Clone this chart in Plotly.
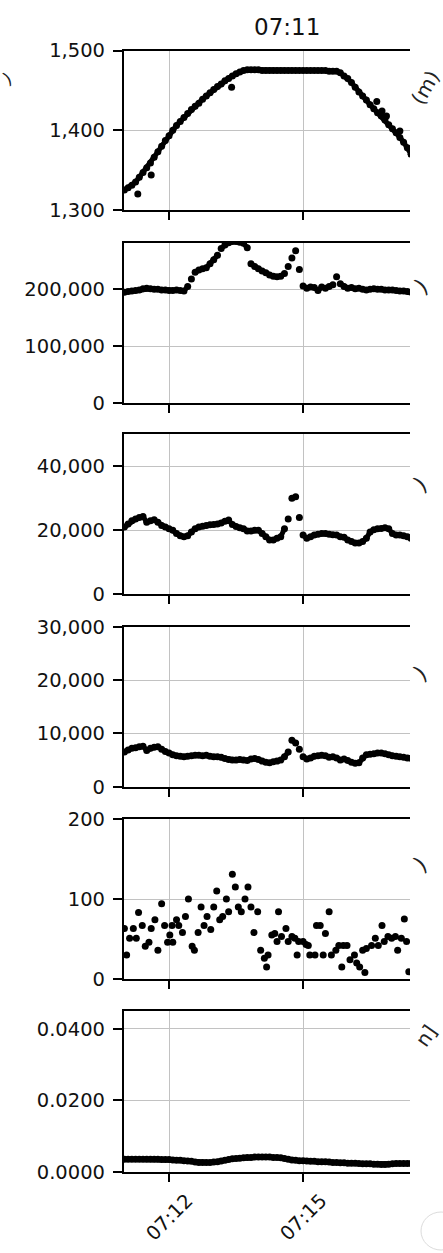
import pandas as pd
import plotly.graph_objects as go

W, H = 443, 1253
FONT = "DejaVu Sans"
day = pd.Timestamp("2023-06-10 07:11:00")

# ---- data: seconds after 07:11:00, 5-second sampling for the continuous channels
dense_sec = list(range(0, 390, 5))

altitude_m = [
    1325, 1328, 1331, 1335, 1341, 1347, 1353, 1359, 1366, 1373,
    1380, 1387, 1393, 1400, 1406, 1411, 1416, 1421, 1426, 1430,
    1434, 1439, 1443, 1447, 1451, 1455, 1458, 1462, 1465, 1468,
    1471, 1473, 1475, 1476, 1476, 1476, 1476, 1475, 1475, 1475,
    1475, 1475, 1475, 1475, 1475, 1475, 1475, 1475, 1475, 1475,
    1475, 1475, 1475, 1475, 1475, 1474, 1474, 1474, 1472, 1468,
    1465, 1460, 1454, 1448, 1443, 1438, 1432, 1427, 1422, 1418,
    1413, 1407, 1402, 1397, 1391, 1385, 1378, 1370,
]
altitude_extra_sec = [18, 36, 144, 339, 346, 352, 370]
altitude_extra_m = [1320, 1344, 1454, 1436, 1424, 1418, 1399]

channel_2 = [
    195000, 196000, 197000, 198000, 199000, 201000, 202000, 201000, 200000, 200000,
    199000, 199000, 198000, 198000, 199000, 198000, 197000, 205000, 218000, 230000,
    234000, 236000, 238000, 245000, 252000, 260000, 272000, 278000, 282000, 284000,
    284000, 283000, 281000, 273000, 245000, 240000, 236000, 232000, 229000, 225000,
    223000, 222000, 223000, 228000, 240000, 255000, 268000, 235000, 206000, 202000,
    204000, 203000, 198000, 204000, 202000, 205000, 208000, 222000, 210000, 205000,
    202000, 203000, 201000, 202000, 200000, 199000, 200000, 201000, 200000, 200000,
    199000, 199000, 199000, 198000, 197000, 197000, 196000, 195000,
]

channel_3 = [
    21000, 22000, 23000, 23500, 24000, 24300, 22500, 23000, 23300, 22500,
    21500, 21000, 20500, 20000, 19000, 18300, 18000, 18300, 19500, 20500,
    21000, 21300, 21500, 21700, 21800, 22000, 22300, 22800, 23200, 21800,
    21200, 20800, 20500, 19800, 19800, 20000, 20000, 19000, 18000, 17000,
    17000, 17500, 18000, 20500, 23500, 30000, 30500, 24000, 18500, 17500,
    18000, 18500, 18800, 19000, 19000, 18800, 18600, 18500, 18000, 17800,
    17000, 16500, 16000, 16000, 16500, 17500, 19500, 20200, 20500, 20600,
    20800, 20500, 19000, 18500, 18500, 18300, 18000, 17500,
]

channel_4 = [
    6500, 6900, 7200, 7300, 7500, 7600, 6800, 7200, 7400, 7500,
    7000, 6600, 6300, 6000, 5800, 5700, 5600, 5700, 5800, 5900,
    5900, 5800, 5900, 5700, 5600, 5600, 5500, 5300, 5100, 5000,
    5000, 5100, 5000, 4900, 5200, 5300, 5100, 4800, 4600, 4500,
    4700, 4800, 5000, 5600, 6500, 8700, 8200, 7000, 5600, 5200,
    5400, 5700, 5800, 5900, 5800, 5500, 5600, 5400, 5000, 5200,
    4900, 4600, 4400, 4500, 5400, 6000, 6100, 6200, 6300, 6300,
    6200, 6000, 5800, 5700, 5600, 5500, 5400, 5300,
]

# sparse channel, own timestamps
sparse_sec = [
    0, 3, 7, 12, 16, 19, 24, 28, 33, 36, 41, 45, 50, 54, 58, 61, 64, 65, 70, 73,
    78, 82, 86, 91, 94, 99, 103, 107, 111, 116, 120, 124, 128, 132, 137, 140, 145, 149, 153, 157,
    162, 166, 170, 174, 179, 183, 188, 191, 193, 198, 202, 205, 207, 211, 217, 220, 225, 229, 232, 234,
    240, 244, 247, 249, 256, 258, 263, 267, 270, 275, 278, 284, 288, 292, 294, 299, 303, 309, 312, 316,
    320, 323, 325, 332, 337, 341, 346, 349, 354, 359, 364, 367, 372, 376, 379, 382,
]
sparse_val = [
    63, 30, 51, 63, 51, 83, 67, 41, 46, 63, 74, 36, 94, 67, 46, 55, 67, 46, 74, 67,
    58, 78, 100, 41, 36, 58, 90, 67, 78, 62, 90, 110, 74, 78, 100, 84, 131, 115, 90, 84,
    100, 115, 90, 58, 84, 36, 26, 15, 30, 55, 57, 47, 84, 53, 63, 47, 53, 51, 30, 47,
    47, 43, 42, 30, 30, 67, 67, 30, 57, 84, 30, 36, 42, 15, 42, 42, 24, 30, 20, 15,
    36, 8, 38, 42, 51, 42, 67, 47, 53, 51, 53, 36, 51, 75, 47, 9,
]

channel_6 = [
    0.0035, 0.0035, 0.0035, 0.0035, 0.0035, 0.0035, 0.0035, 0.0035, 0.0035, 0.0035,
    0.0034, 0.0034, 0.0034, 0.0033, 0.0032, 0.0032, 0.0031, 0.0030, 0.0029, 0.0027,
    0.0026, 0.0026, 0.0026, 0.0026, 0.0027, 0.0028, 0.0030, 0.0032, 0.0034, 0.0036,
    0.0037, 0.0038, 0.0039, 0.0040, 0.0040, 0.0041, 0.0041, 0.0041, 0.0041, 0.0041,
    0.0040, 0.0040, 0.0039, 0.0037, 0.0035, 0.0033, 0.0032, 0.0031, 0.0031, 0.0030,
    0.0029, 0.0029, 0.0028, 0.0028, 0.0028, 0.0027, 0.0026, 0.0026, 0.0025, 0.0025,
    0.0024, 0.0024, 0.0024, 0.0023, 0.0022, 0.0022, 0.0022, 0.0021, 0.0021, 0.0020,
    0.0020, 0.0021, 0.0022, 0.0023, 0.0023, 0.0023, 0.0023, 0.0023,
]

x_tick_labels = ["07:12", "07:15"]
title_text = "07:11"


def stamps(secs):
    return [day + pd.Timedelta(seconds=s) for s in secs]


def broken_line(tx, vy, jump):
    """Join consecutive samples, but leave a gap across abrupt jumps."""
    xs, ys = [tx[0]], [vy[0]]
    for k in range(1, len(vy)):
        if abs(vy[k] - vy[k - 1]) > jump:
            xs.append(None)
            ys.append(None)
        xs.append(tx[k])
        ys.append(vy[k])
    return xs, ys


dense_t = stamps(dense_sec)
tick_t = [pd.Timestamp(f"2023-06-10 {lbl}") for lbl in x_tick_labels]
x_range = [day - pd.Timedelta(seconds=0.94), day + pd.Timedelta(seconds=383.6)]

# panel geometry (pixel rows) and y-axis setup; "jump" = gap threshold for the joining line
panels = [
    dict(series=[(dense_t, altitude_m, 20), (stamps(altitude_extra_sec), altitude_extra_m, None)],
         rng=[1300, 1500], ticks=[1300, 1400, 1500], fmt=",d", top=50.5, bot=210),
    dict(series=[(dense_t, channel_2, 9000)],
         rng=[0, 282000], ticks=[0, 100000, 200000], fmt=",d", top=242.7, bot=403),
    dict(series=[(dense_t, channel_3, 2500)],
         rng=[0, 50000], ticks=[0, 20000, 40000], fmt=",d", top=434.3, bot=594.3),
    dict(series=[(dense_t, channel_4, 1000)],
         rng=[0, 30000], ticks=[0, 10000, 20000, 30000], fmt=",d", top=626.7, bot=786.7),
    dict(series=[(stamps(sparse_sec), sparse_val, None)],
         rng=[0, 200], ticks=[0, 100, 200], fmt=",d", top=819, bot=979),
    dict(series=[(dense_t, channel_6, 0.0006)],
         rng=[0, 0.045], ticks=[0, 0.02, 0.04], fmt=".4f", top=1011, bot=1171.7),
]

X0, X1 = 123.7 / W, 410 / W
fig = go.Figure()
layout = {}
tick_font = dict(family=FONT, size=19.5, color="#111111")
AX_W = 1.6

for i, p in enumerate(panels, start=1):
    xs = "x" if i == 1 else f"x{i}"
    ys = "y" if i == 1 else f"y{i}"
    for tx, vy, jump in p["series"]:
        if jump is not None:
            lx, ly = broken_line(tx, vy, jump)
            fig.add_trace(go.Scatter(
                x=lx, y=ly, xaxis=xs, yaxis=ys, mode="lines",
                line=dict(color="black", width=5), connectgaps=False,
                showlegend=False, hoverinfo="skip",
            ))
        fig.add_trace(go.Scatter(
            x=tx, y=vy, xaxis=xs, yaxis=ys, mode="markers",
            marker=dict(color="black", size=7, line=dict(width=0)),
            showlegend=False, hoverinfo="skip",
        ))
    xa = dict(
        domain=[X0, X1], anchor=ys, type="date", range=x_range, automargin=False,
        tickmode="array", tickvals=tick_t, showticklabels=False,
        ticks="outside", ticklen=8, tickwidth=AX_W, tickcolor="black",
        showline=True, linecolor="black", linewidth=AX_W, mirror=True,
        showgrid=True, gridcolor="#c2c2c2", gridwidth=1, zeroline=False,
    )
    if i > 1:
        xa["matches"] = "x"
    ya = dict(
        domain=[1 - p["bot"] / H, 1 - p["top"] / H], anchor=xs, automargin=False,
        range=p["rng"], tickmode="array", tickvals=p["ticks"], tickformat=p["fmt"],
        ticks="outside", ticklen=9, tickwidth=AX_W, tickcolor="black",
        showline=True, linecolor="black", linewidth=AX_W, mirror=False,
        showgrid=True, gridcolor="#c2c2c2", gridwidth=1, zeroline=False,
        tickfont=tick_font, ticklabelstandoff=4,
    )
    layout["xaxis" if i == 1 else f"xaxis{i}"] = xa
    layout["yaxis" if i == 1 else f"yaxis{i}"] = ya

annotations = [
    dict(text=title_text, x=287 / W, y=1 - 27 / H, xref="paper", yref="paper",
         showarrow=False, xanchor="center", yanchor="middle",
         font=dict(family=FONT, size=23, color="#111111")),
]
for t, lbl in zip(tick_t, x_tick_labels):
    annotations.append(dict(
        text=lbl, x=t, xref="x6", y=1 - 1217 / H, yref="paper",
        showarrow=False, xanchor="center", yanchor="middle", textangle=-45,
        font=dict(family=FONT, size=19.5, color="#111111"),
    ))

# axis-label tails from the neighbouring column
edge_bits = [("(m)", 425, 88, -60, 20), (")", 421, 286, -40, 22), (")", 420, 484, -40, 22),
             (")", 420, 673, -40, 22), (")", 420, 864, -40, 22), ("n]", 426, 1036, -55, 20)]
for txt, px, py, ang, fs in edge_bits:
    annotations.append(dict(
        text=txt, x=px / W, y=1 - py / H, xref="paper", yref="paper",
        showarrow=False, xanchor="center", yanchor="middle", textangle=ang,
        font=dict(family=FONT, size=fs, color="#222222"),
    ))
annotations.append(dict(
    text=")", x=8 / W, y=1 - 78 / H, xref="paper", yref="paper",
    showarrow=False, xanchor="center", yanchor="middle", textangle=-30,
    font=dict(family=FONT, size=17, color="#222222"),
))

fig.update_layout(
    width=W, height=H, margin=dict(l=0, r=0, t=0, b=0, autoexpand=False),
    paper_bgcolor="white", plot_bgcolor="white",
    annotations=annotations,
    shapes=[dict(type="circle", xref="paper", yref="paper",
                 x0=421 / W, x1=461 / W, y0=1 - 1250 / H, y1=1 - 1212 / H,
                 line=dict(color="#dcdcdc", width=1))],
    **layout,
)

fig.write_html("out.html")
